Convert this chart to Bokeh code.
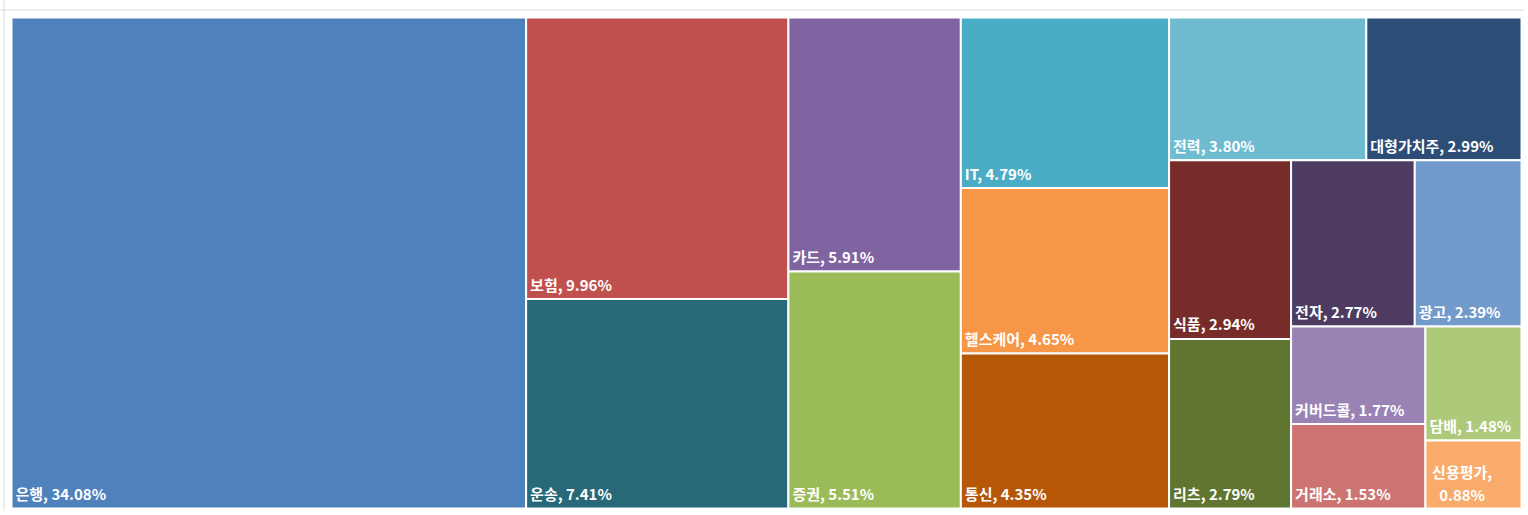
from bokeh.plotting import figure
from bokeh.models import ColumnDataSource, Range1d, Span
from bokeh.core.properties import value
from bokeh.embed import file_html
from bokeh.resources import INLINE

# ---- data ----
sectors = ["은행", "보험", "운송", "카드", "증권", "IT", "헬스케어", "통신", "전력",
           "대형가치주", "식품", "리츠", "전자", "광고", "커버드콜", "거래소", "담배", "신용평가"]
weights = [34.08, 9.96, 7.41, 5.91, 5.51, 4.79, 4.65, 4.35, 3.80,
           2.99, 2.94, 2.79, 2.77, 2.39, 1.77, 1.53, 1.48, 0.88]
colors = ["#4F81BD", "#C0504D", "#276979", "#8064A2", "#9BBB59", "#4BACC6", "#F79646",
          "#B65708", "#6FBBCF", "#2C4D75", "#772C2A", "#5F7530", "#4D3B62", "#729ACA",
          "#9983B5", "#CD7371", "#AFC97A", "#F9AB6B"]

# ---- page geometry (page pixels) ----
FIG_X, FIG_Y = 0, 0
W, H = 1524, 511
X0, Y0, TW, TH = 11, 17, 1510, 491
FONT_PX = 15


def squarify(vals, x, y, dx, dy):
    total = sum(vals)
    scale = dx * dy / total
    areas = [v * scale for v in vals]
    rects = []

    def worst(row, side):
        s = sum(row)
        return max(max(side * side * r / (s * s), (s * s) / (side * side * r)) for r in row)

    i = 0
    while i < len(areas):
        side = min(dx, dy)
        row = [areas[i]]
        j = i + 1
        while j < len(areas) and worst(row + [areas[j]], side) <= worst(row, side):
            row.append(areas[j])
            j += 1
        s = sum(row)
        if dx >= dy:  # column on the left, items top to bottom
            cw = s / dy
            yy = y
            for a in row:
                h = a / cw
                rects.append((x, yy, cw, h))
                yy += h
            x += cw
            dx -= cw
        else:  # row on top, items left to right
            rh = s / dx
            xx = x
            for a in row:
                w = a / rh
                rects.append((xx, y, w, rh))
                xx += w
            y += rh
            dy -= rh
        i = j
    return rects


rects = squarify(weights, X0, Y0, TW, TH)


def est_width(s):
    w = 0.0
    for ch in s:
        if '\uac00' <= ch <= '\ud7a3':
            w += 0.92 * FONT_PX
        elif ch in ",.":
            w += 0.28 * FONT_PX
        elif ch == " ":
            w += 0.25 * FONT_PX
        elif ch == "%":
            w += 0.85 * FONT_PX
        else:
            w += 0.58 * FONT_PX
    return w


tile = dict(left=[], right=[], top=[], bottom=[], color=[])
lab = dict(x=[], y=[], text=[])
lab_c = dict(x=[], y=[], text=[])
for name, v, c, (rx, ry, rw, rh) in zip(sectors, weights, colors, rects):
    tile["left"].append(rx)
    tile["right"].append(rx + rw)
    tile["top"].append(ry)
    tile["bottom"].append(ry + rh)
    tile["color"].append(c)
    l1 = f"{name},"
    l2 = f"{v:.2f}%"
    full = f"{l1} {l2}"
    if est_width(full) <= rw - 8:
        lab["x"].append(rx + 4)
        lab["y"].append(ry + rh - 15)
        lab["text"].append(full)
    else:
        bw = max(est_width(l1), est_width(l2))
        cx = rx + 7 + bw / 2
        lab_c["x"] += [cx, cx]
        lab_c["y"] += [ry + rh - 37, ry + rh - 14]
        lab_c["text"] += [l1, l2]

p = figure(width=W, height=H, output_backend="svg", toolbar_location=None,
           x_range=Range1d(FIG_X, FIG_X + W), y_range=Range1d(FIG_Y + H, FIG_Y),
           min_border=0, outline_line_color=None, background_fill_color="white",
           border_fill_color="white")
p.axis.visible = False
p.grid.visible = False

p.add_layout(Span(location=9.5, dimension="width", line_color="#D9D9D9", line_width=1))
p.add_layout(Span(location=3.5, dimension="height", line_color="#D9D9D9", line_width=1))

p.quad(left="left", right="right", top="top", bottom="bottom", fill_color="color",
       line_color="white", line_width=2, source=ColumnDataSource(tile))

common = dict(text_color="white", text_font=value("Noto Sans CJK KR"),
              text_font_style="bold", text_font_size=f"{FONT_PX}px", text_baseline="middle")
p.text(x="x", y="y", text="text", text_align="left", source=ColumnDataSource(lab), **common)
p.text(x="x", y="y", text="text", text_align="center", source=ColumnDataSource(lab_c), **common)

open("out.html", "w").write(file_html(p, INLINE))
